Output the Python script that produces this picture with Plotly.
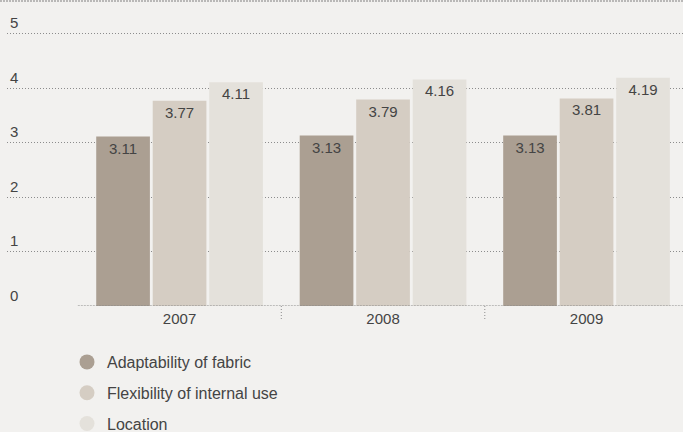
import plotly.graph_objects as go

# Survey scores per year
years = ["2007", "2008", "2009"]
series_names = ["Adaptability of fabric", "Flexibility of internal use", "Location"]
adaptability = [3.11, 3.13, 3.13]
flexibility = [3.77, 3.79, 3.81]
location = [4.11, 4.16, 4.19]
y_ticks = [0, 1, 2, 3, 4, 5]

series_values = [adaptability, flexibility, location]
colors = ["#ab9f92", "#d5cdc3", "#e4e1db"]

BG = "#f2f1ef"
TEXT = "#444444"
GRID = "#8c8c8c"
FONT = "Liberation Sans, Arial, sans-serif"

W, H = 683, 432
M_TOP = 1
PLOT_BOTTOM_PX = 306
AREA_H = H - M_TOP
y_dom_bottom = (H - PLOT_BOTTOM_PX) / AREA_H
x_dom_left = 7 / W
x_range = [-0.848, 2.474]
y_range = [0, 5.6]

fig = go.Figure()

for name, vals, col in zip(series_names, series_values, colors):
    fig.add_trace(go.Bar(
        x=years, y=vals, name=name,
        marker=dict(color=col, line=dict(width=0)),
        text=[f"{v:.2f}" for v in vals],
        textposition="inside", insidetextanchor="end",
        textangle=0, constraintext="none",
        textfont=dict(color=TEXT, size=15, family=FONT),
        showlegend=False, hoverinfo="skip",
    ))

# Round legend swatches
for i, (name, col) in enumerate(zip(series_names, colors)):
    fig.add_trace(go.Scatter(
        x=[None], y=[None], mode="markers", name=name,
        legendgroup=f"g{i}",
        marker=dict(color=col, size=15, symbol="circle"),
        showlegend=True, hoverinfo="skip",
    ))

shapes = [
    # top border
    dict(type="line", xref="paper", yref="paper", x0=0, x1=1, y0=1, y1=1,
         line=dict(color="#808080", width=1.2, dash="2px,1px")),
    # baseline under the bar groups
    dict(type="line", xref="x", yref="y", x0=-0.5, x1=x_range[1], y0=0, y1=0,
         line=dict(color="#888888", width=1.2, dash="2px,1px")),
]
for sep in [0.5, 1.5]:
    shapes.append(dict(
        type="line", xref="x", yref="paper", x0=sep, x1=sep,
        y0=y_dom_bottom, y1=y_dom_bottom - 13 / AREA_H,
        line=dict(color=GRID, width=1, dash="1px,2px"),
    ))

fig.update_layout(
    width=W, height=H,
    margin=dict(l=0, r=0, t=M_TOP, b=0, autoexpand=False),
    paper_bgcolor=BG, plot_bgcolor=BG,
    font=dict(family=FONT, color=TEXT, size=15),
    barmode="group", bargap=0.167, bargroupgap=0.05,
    xaxis=dict(
        type="category", categoryorder="array", categoryarray=years,
        domain=[x_dom_left, 1], range=x_range,
        showgrid=False, zeroline=False, showline=False, ticks="",
        tickfont=dict(size=15, color=TEXT), ticklabelstandoff=2,
    ),
    yaxis=dict(
        domain=[y_dom_bottom, 1], range=y_range,
        tickvals=y_ticks, ticktext=[str(t) for t in y_ticks],
        ticklabelposition="inside top",
        showgrid=True, gridcolor=GRID, gridwidth=1, griddash="1px,2px",
        zeroline=False, showline=False, ticks="",
        tickfont=dict(size=15, color=TEXT),
    ),
    legend=dict(
        x=67 / W, xanchor="left", y=(H - 345) / AREA_H, yanchor="top",
        orientation="v", tracegroupgap=7,
        font=dict(size=16, color=TEXT, family=FONT),
        bgcolor="rgba(0,0,0,0)",
    ),
    shapes=shapes,
)

fig.write_html("out.html")
